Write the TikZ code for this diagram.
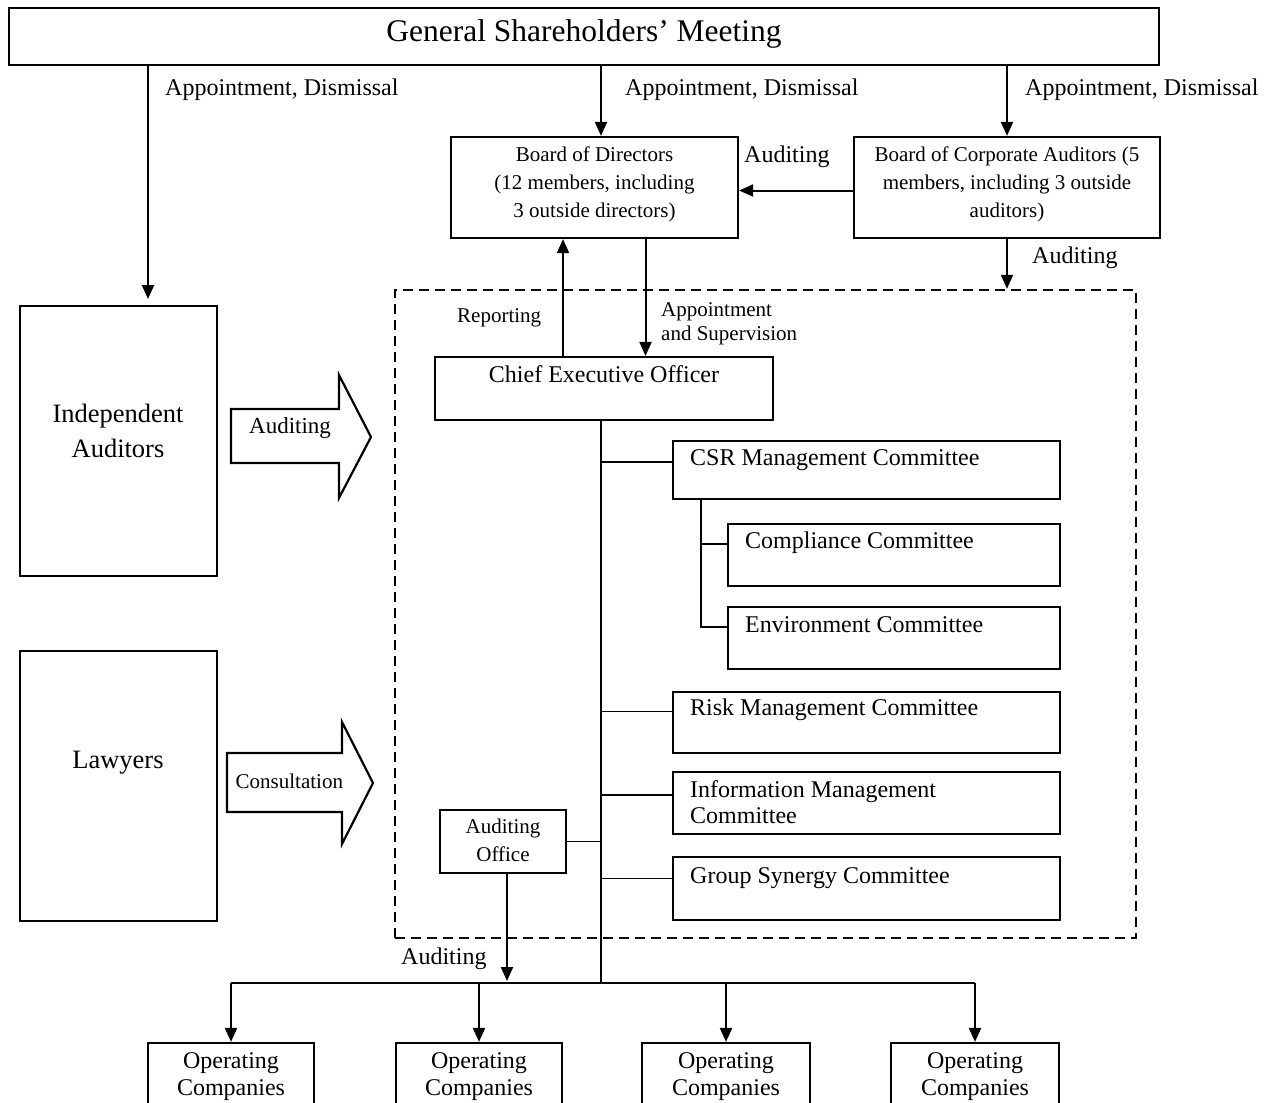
\documentclass[tikz,border=0pt]{standalone}
\usepackage{fontspec}
\setmainfont{Liberation Serif}
\usetikzlibrary{arrows.meta,fit}
\begin{document}
\begin{tikzpicture}[x=1pt,y=-1pt,
  box/.style={draw,line width=2.2pt,inner sep=0pt,rectangle},
  dbox/.style={draw,line width=2.4pt,inner sep=0pt,rectangle,dash pattern=on 10pt off 6pt},
  conn/.style={line width=2pt},
  arr/.style={line width=2pt,-{Triangle[length=14pt,width=12pt]}},
  thin/.style={line width=1.8pt},
  blk/.style={draw,line width=2.2pt,line join=miter},
  t31/.style={inner sep=0pt,font=\fontsize{31.5}{36}\selectfont},
  t26/.style={inner sep=0pt,font=\fontsize{26.5}{35}\selectfont,align=center},
  t24/.style={inner sep=0pt,font=\fontsize{24}{27}\selectfont},
  t21/.style={inner sep=0pt,font=\fontsize{21}{28}\selectfont},
]
\useasboundingbox (0,0) rectangle (1267,1103);
\fill[white] (0,0) rectangle (1267,1103);
\clip (0,0) rectangle (1267,1103);

% boxes
\node[box,fit={(9,8) (1159,65)}] (gsm) {};
\node[box,fit={(451,137) (738,238)}] (bod) {};
\node[box,fit={(854,137) (1160,238)}] (bca) {};
\node[dbox,fit={(395,290) (1136,938)}] (mgmt) {};
\node[box,fit={(435,357) (773,420)}] (ceo) {};
\node[box,fit={(673,441) (1060,499)}] (csr) {};
\node[box,fit={(728,524) (1060,586)}] (comp) {};
\node[box,fit={(728,607) (1060,669)}] (env) {};
\node[box,fit={(673,692) (1060,753)}] (risk) {};
\node[box,fit={(673,772) (1060,834)}] (info) {};
\node[box,fit={(673,857) (1060,920)}] (grp) {};
\node[box,fit={(440,810) (566,873)}] (aud) {};
\node[box,fit={(20,306) (217,576)}] (ia) {};
\node[box,fit={(20,651) (217,921)}] (law) {};
\node[box,fit={(148,1043) (314,1125)}] (op1) {};
\node[box,fit={(396,1043) (562,1125)}] (op2) {};
\node[box,fit={(642,1043) (810,1125)}] (op3) {};
\node[box,fit={(891,1043) (1059,1125)}] (op4) {};

% texts (multi-line nodes: base = baseline of last line)
\node[t31,anchor=base] (gsmt) at (584,41) {General Shareholders’ Meeting};
\node[t24,anchor=base west] (l1) at (165,95) {Appointment, Dismissal};
\node[t24,anchor=base west] (l2) at (625,95) {Appointment, Dismissal};
\node[t24,anchor=base west] (l3) at (1025,95) {Appointment, Dismissal};
\node[t21,anchor=base,align=center] (bodt) at (594.5,217) {Board of Directors\\(12 members, including\\3 outside directors)};
\node[t21,anchor=base,align=center] (bcat) at (1007,217) {Board of Corporate Auditors (5\\members, including 3 outside\\auditors)};
\node[t24,anchor=base west] (l4) at (744,162) {Auditing};
\node[t24,anchor=base west] (l5) at (1032,263) {Auditing};
\node[t21,anchor=base west] (l6) at (457,322) {Reporting};
\node[t21,anchor=base west,align=left,font=\fontsize{21}{24}\selectfont] (l7) at (661,340) {Appointment\\and Supervision};
\node[t24,anchor=base] (ceot) at (604,382) {Chief Executive Officer};
\node[t24,anchor=base west] (csrt) at (690,465) {CSR Management Committee};
\node[t24,anchor=base west] (compt) at (745,548) {Compliance Committee};
\node[t24,anchor=base west] (envt) at (745,632) {Environment Committee};
\node[t24,anchor=base west] (riskt) at (690,715) {Risk Management Committee};
\node[t24,anchor=base west,align=left,font=\fontsize{24}{26}\selectfont] (infot) at (690,823) {Information Management\\Committee};
\node[t24,anchor=base west] (grpt) at (690,883) {Group Synergy Committee};
\node[t21,anchor=base,align=center] (audt) at (503,861) {Auditing\\Office};
\node[t24,anchor=base west] (l8) at (401,964) {Auditing};
\node[t26,anchor=base] (iat) at (118,457) {Independent\\Auditors};
\node[t26,anchor=base] (lawt) at (118,768) {Lawyers};
\node[t24,anchor=base,align=center] (op1t) at (231,1095) {Operating\\Companies};
\node[t24,anchor=base,align=center] (op2t) at (479,1095) {Operating\\Companies};
\node[t24,anchor=base,align=center] (op3t) at (726,1095) {Operating\\Companies};
\node[t24,anchor=base,align=center] (op4t) at (975,1095) {Operating\\Companies};

% block arrows
\draw[blk] (231,409) -- (339,409) -- (339,375) -- (371,437) -- (339,498) -- (339,463) -- (231,463) -- cycle;
\node[inner sep=0pt,font=\fontsize{23}{27}\selectfont,anchor=base west] (b1t) at (249,433) {Auditing};
\draw[blk] (227,753) -- (342,753) -- (342,722) -- (373,783) -- (342,844) -- (342,812) -- (227,812) -- cycle;
\node[t21,anchor=base west] (b2t) at (235.5,788) {Consultation};

% coordinates
\coordinate (xi) at (148,299);
\coordinate (tb) at (601,983);
\coordinate (xr) at (563,0);
\coordinate (xs) at (645.5,0);
\coordinate (st) at (701,0);
\coordinate (xo) at (507,981);

% connectors
\draw[arr] (gsm.south -| xi) -- (xi);
\draw[arr] (gsm.south -| tb) -- (bod.north -| tb);
\draw[arr] (gsm.south -| bca.north) -- (bca.north);
\draw[arr] ([yshift=-3pt]bca.west) -- ([yshift=-3pt]bod.east);
\draw[arr] (bca.south) -- (bca.south |- mgmt.north);
\draw[arr] (ceo.north -| xr) -- (bod.south -| xr);
\draw[arr] (bod.south -| xs) -- (ceo.north -| xs);
\draw[conn] (ceo.south -| tb) -- (tb);
\draw[thin] ([yshift=8pt]csr.west -| tb) -- ([yshift=8pt]csr.west);
\draw[thin] (csr.south -| st) |- ([yshift=11pt]env.west);
\draw[thin] ([yshift=11pt]comp.west -| st) -- ([yshift=11pt]comp.west);
\draw[thin] ([yshift=11pt]risk.west -| tb) -- ([yshift=11pt]risk.west);
\draw[thin] ([yshift=8pt]info.west -| tb) -- ([yshift=8pt]info.west);
\draw[thin] ([yshift=10pt]grp.west -| tb) -- ([yshift=10pt]grp.west);
\draw[thin] (aud.east) -- (aud.east -| tb);
\draw[arr] (aud.south -| xo) -- (xo);
\draw[conn] (op1.north |- tb) -- (op4.north |- tb);
\draw[arr] (op1.north |- tb) -- (op1.north);
\draw[arr] (op2.north |- tb) -- (op2.north);
\draw[arr] (op3.north |- tb) -- (op3.north);
\draw[arr] (op4.north |- tb) -- (op4.north);
\end{tikzpicture}
\end{document}
